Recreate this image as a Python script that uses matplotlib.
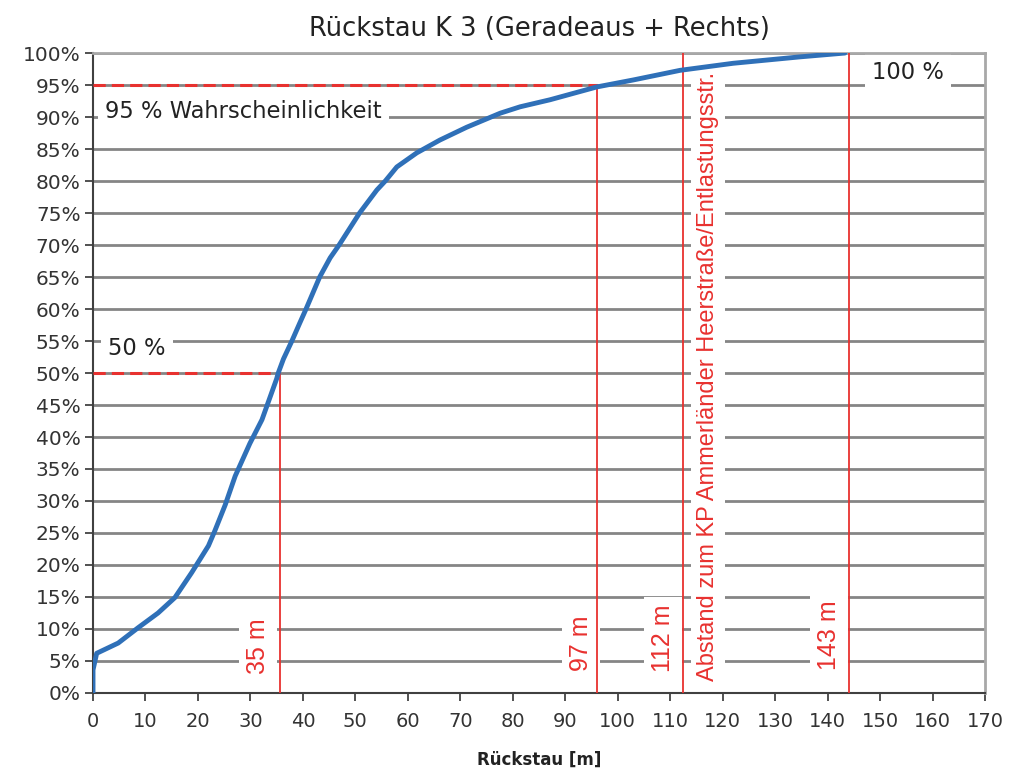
import matplotlib
matplotlib.use('Agg')
import matplotlib.pyplot as plt
import matplotlib.ticker as mtick

plt.rcParams['font.family'] = ['DejaVu Sans']

# Summenlinie Rueckstau
rueckstau = [0, 0, 0.7, 4.8, 8.6, 12.4, 15.6, 18.8, 22, 23.2, 25.2, 27.1, 29.9, 32.2, 35.0,
             35.3, 36.3, 37.9, 39.4, 40.6, 43.2, 45.2, 46.9, 50.8, 54.1, 55.7, 57.9, 61.7,
             66.1, 71.2, 77.6, 81.4, 87.1, 96, 103, 111.9, 122, 134.7, 143.3]
wahrsch = [0, 3.6, 6.2, 7.8, 10.2, 12.5, 14.9, 18.8, 23, 25.3, 29.4, 33.9, 39, 42.7, 49.1,
           50, 52.2, 55, 57.8, 60, 65, 68, 70, 75, 78.6, 80, 82.2, 84.4,
           86.4, 88.4, 90.6, 91.6, 92.7, 94.7, 95.8, 97.3, 98.4, 99.4, 100]

# Markierungen
marken = [35.6, 96, 112.5, 144]
marken_bis = [50, 95, 100, 100]
marken_text = ['35 m', '97 m', '112 m', '143 m']
marken_text_x = [31.5, 93.0, 108.6, 140.2]
marken_text_y = [7.3, 7.8, 8.6, 9.0]

rot = '#e8312f'
blau = '#2f70b8'
schmal = ['Liberation Sans', 'DejaVu Sans']

fig = plt.figure(figsize=(10.30, 7.71), dpi=100)
ax = fig.add_axes([0.0903, 0.1012, 0.866, 0.830])

ax.set_xlim(0, 170)
ax.set_ylim(0, 100)
ax.set_xticks(range(0, 171, 10))
ax.set_yticks(range(0, 101, 5))
ax.yaxis.set_major_formatter(mtick.FormatStrFormatter('%d%%'))
ax.tick_params(axis='both', colors='#333333', length=6, width=1.2)
ax.tick_params(axis='y', labelsize=14.5, pad=3)
ax.tick_params(axis='x', labelsize=14, pad=8)
ax.grid(axis='y', color='#858585', lw=2, zorder=0)
ax.set_axisbelow(True)

for s in ['left', 'bottom']:
    ax.spines[s].set_color('#404040')
    ax.spines[s].set_linewidth(1.5)
for s in ['top', 'right']:
    ax.spines[s].set_color('#a8a8a8')
    ax.spines[s].set_linewidth(2)

# Hilfslinien
ax.plot([0, marken[0]], [50, 50], color=rot, lw=2.2, ls=(0, (4, 2)), zorder=4)
ax.plot([0, marken[1]], [95, 95], color=rot, lw=2.2, ls=(0, (4, 2)), zorder=4)
for x, top in zip(marken, marken_bis):
    ax.plot([x, x], [0, top], color=rot, lw=1.3, zorder=4)

box = dict(facecolor='white', edgecolor='none', pad=5)
for x, y, t in zip(marken_text_x, marken_text_y, marken_text):
    ax.text(x, y, t, rotation=90, color=rot, fontsize=18, ha='center', va='center',
            family=schmal, bbox=box, zorder=2)
ax.text(117.2, 49.4, 'Abstand zum KP Ammerländer Heerstraße/Entlastungsstr.', rotation=90,
        color=rot, fontsize=17, ha='center', va='center', family=schmal,
        bbox=dict(facecolor='white', edgecolor='none', pad=4), zorder=2)

ax.text(2.3, 90.8, '95 % Wahrscheinlichkeit', fontsize=16.3, color='#222222', va='center',
        bbox=dict(facecolor='white', edgecolor='none', pad=5), zorder=2)
ax.text(2.9, 53.9, '50 %', fontsize=16.3, color='#222222', va='center',
        bbox=dict(facecolor='white', edgecolor='none', pad=5), zorder=2)
ax.text(148.5, 96.9, '100 %', fontsize=16.3, color='#222222', va='center',
        bbox=dict(facecolor='white', edgecolor='none', pad=5), zorder=2)

ax.plot(rueckstau, wahrsch, color=blau, lw=3.5, zorder=5, solid_capstyle='round')

ax.set_title('Rückstau K 3 (Geradeaus + Rechts)', fontsize=18.5, color='#222222', pad=12)
ax.set_xlabel('Rückstau [m]', fontsize=12, fontweight='bold', color='#222222', labelpad=14)

fig.savefig('out.png', dpi=100)
